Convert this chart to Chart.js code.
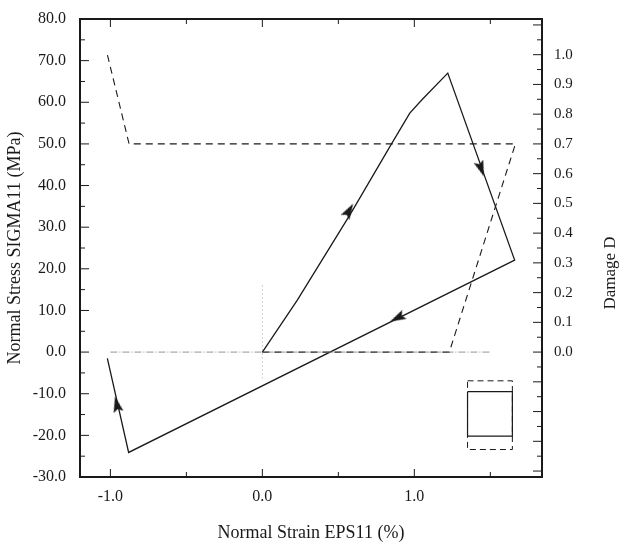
<!DOCTYPE html>
<html>
<head>
<meta charset="utf-8">
<script src="https://cdn.jsdelivr.net/npm/chart.js@4"></script>
<style>
  html, body { margin: 0; padding: 0; background: #fff; }
  #wrap { width: 624px; height: 546px; }
</style>
</head>
<body>
<div id="wrap"><canvas id="chart"></canvas></div>
<script>
// strain EPS11 (%) vs stress SIGMA11 (MPa), in loading order
const strain = [0, 0.23, 0.58, 0.84, 0.97, 1.05, 1.22, 1.66, -0.88, -1.02];
const stress = [0, 12.5, 33.2, 49.4, 57.4, 60.6, 67.0, 22.1, -24.1, -1.5];

// damage D vs strain, same loading order
const dmgStrain = [0, 1.23, 1.665, -0.877, -1.02];
const damage = [0, 0, 0.7, 0.7, 1.0];

// direction arrows along the stress path
const arrowStrain = [0.571, 1.44, 0.888, -0.958];
const arrowStress = [34.0, 44.0, 8.2, -12.5];

// reference lines through the origin
const zeroLineX = [-1.0, 1.5];
const zeroLineY = [0, 0];
const vertLineX = [0, 0];
const vertLineY = [16, -6.3];

// inset: element before (solid) and after (dashed) loading
const boxX = [1.35, 1.645, 1.645, 1.35, 1.35];
const boxY = [-9.5, -9.5, -20.2, -20.2, -9.5];
const boxDefX = [1.35, 1.645, 1.645, 1.35, 1.35];
const boxDefY = [-6.9, -6.9, -23.4, -23.4, -6.9];

const xTicks = [-1.0, 0.0, 1.0];
const yTicks = [-30, -20, -10, 0, 10, 20, 30, 40, 50, 60, 70, 80];
const dTicks = [0, 0.1, 0.2, 0.3, 0.4, 0.5, 0.6, 0.7, 0.8, 0.9, 1.0];

// damage 0.7 sits level with 50 MPa
const mpaPerDamage = 50 / 0.7;

const FONT = 'Liberation Serif';
const INK = '#1a1a1a';

function pts(xs, ys) { return xs.map((x, i) => ({ x: x, y: ys[i] })); }

// narrow arrow head, pointing up
const arrowImg = document.createElement('canvas');
arrowImg.width = 10; arrowImg.height = 16;
(function () {
    const c = arrowImg.getContext('2d');
    c.fillStyle = INK;
    c.beginPath();
    c.moveTo(5, 0);
    c.lineTo(10, 16);
    c.lineTo(5, 13);
    c.lineTo(0, 16);
    c.closePath();
    c.fill();
})();

function arrowAngle(ctx) {
    const chart = ctx.chart;
    const sx = chart.scales.x, sy = chart.scales.y;
    if (!sx || !sy || !ctx.raw) return 0;
    const p = { x: sx.getPixelForValue(ctx.raw.x), y: sy.getPixelForValue(ctx.raw.y) };
    let best = 1e9, ang = 0;
    for (let i = 0; i < strain.length - 1; i++) {
        const a = { x: sx.getPixelForValue(strain[i]), y: sy.getPixelForValue(stress[i]) };
        const b = { x: sx.getPixelForValue(strain[i + 1]), y: sy.getPixelForValue(stress[i + 1]) };
        const dx = b.x - a.x, dy = b.y - a.y;
        const L2 = dx * dx + dy * dy;
        let t = ((p.x - a.x) * dx + (p.y - a.y) * dy) / L2;
        t = Math.max(0, Math.min(1, t));
        const d = Math.hypot(a.x + t * dx - p.x, a.y + t * dy - p.y);
        if (d < best) { best = d; ang = Math.atan2(dx, -dy) * 180 / Math.PI; }
    }
    return ang;
}

// frame + inward tick marks on all four sides
const framePlugin = {
    id: 'frame',
    afterDraw(chart) {
        const { ctx, chartArea: a, scales } = chart;
        ctx.save();
        ctx.strokeStyle = INK;
        ctx.lineWidth = 1;
        ctx.beginPath();
        for (let v = -1.0; v <= 1.51; v += 0.5) {
            const px = scales.x.getPixelForValue(v);
            const len = Math.abs(v % 1) < 0.01 ? 8 : 5;
            ctx.moveTo(px, a.bottom); ctx.lineTo(px, a.bottom - len);
            ctx.moveTo(px, a.top); ctx.lineTo(px, a.top + len);
        }
        for (let v = -30; v <= 80; v += 5) {
            const py = scales.y.getPixelForValue(v);
            const len = v % 10 === 0 ? 9 : 5;
            ctx.moveTo(a.left, py); ctx.lineTo(a.left + len, py);
        }
        for (let k = -8; k <= 22; k++) {
            const v = k * 0.05;
            const py = scales.y2.getPixelForValue(v);
            if (py < a.top || py > a.bottom) continue;
            const len = k % 2 === 0 ? 9 : 5;
            ctx.moveTo(a.right, py); ctx.lineTo(a.right - len, py);
        }
        ctx.stroke();
        ctx.lineWidth = 2;
        ctx.strokeRect(a.left, a.top, a.right - a.left, a.bottom - a.top);
        // right-hand axis title
        ctx.fillStyle = INK;
        ctx.font = '17px "' + FONT + '"';
        ctx.textAlign = 'center';
        ctx.textBaseline = 'middle';
        ctx.translate(chart.width - 13, scales.y.getPixelForValue(19));
        ctx.rotate(-Math.PI / 2);
        ctx.fillText('Damage D', 0, 0);
        ctx.restore();
    }
};

function fitSide(w) {
    return s => { s.width = w; s.paddingTop = 0; s.paddingBottom = 0; };
}

new Chart(document.getElementById('chart').getContext('2d'), {
    type: 'scatter',
    data: {
        datasets: [
            {
                label: 'zero',
                data: pts(zeroLineX, zeroLineY),
                showLine: true, pointRadius: 0,
                borderColor: '#777', borderWidth: 0.8, borderDash: [7, 2, 1, 2]
            },
            {
                label: 'vert',
                data: pts(vertLineX, vertLineY),
                showLine: true, pointRadius: 0,
                borderColor: '#888', borderWidth: 0.8, borderDash: [1, 3]
            },
            {
                label: 'Damage D',
                data: pts(dmgStrain, damage),
                yAxisID: 'y2',
                showLine: true, pointRadius: 0,
                borderColor: INK, borderWidth: 1.1, borderDash: [7, 5]
            },
            {
                label: 'SIGMA11',
                data: pts(strain, stress),
                showLine: true, pointRadius: 0,
                borderColor: INK, borderWidth: 1.3
            },
            {
                label: 'arrows',
                data: pts(arrowStrain, arrowStress),
                pointStyle: arrowImg,
                rotation: arrowAngle,
                pointRadius: 8
            },
            {
                label: 'box',
                data: pts(boxX, boxY),
                showLine: true, pointRadius: 0,
                borderColor: INK, borderWidth: 1.2
            },
            {
                label: 'box deformed',
                data: pts(boxDefX, boxDefY),
                showLine: true, pointRadius: 0,
                borderColor: INK, borderWidth: 1, borderDash: [6, 4]
            }
        ]
    },
    options: {
        responsive: true,
        maintainAspectRatio: false,
        animation: false,
        layout: { padding: { top: 19, right: 0, left: 0, bottom: 0 } },
        plugins: {
            legend: { display: false },
            tooltip: { enabled: false }
        },
        scales: {
            x: {
                type: 'linear',
                min: -1.2, max: 1.84,
                afterBuildTicks: s => { s.ticks = xTicks.map(v => ({ value: v })); },
                afterFit: s => { s.height = 69; s.paddingLeft = 0; s.paddingRight = 0; },
                grid: { display: false, drawTicks: false },
                border: { display: false },
                ticks: {
                    padding: 10, color: INK,
                    font: { family: FONT, size: 16 },
                    callback: v => v.toFixed(1)
                },
                title: {
                    display: true, text: 'Normal Strain EPS11 (%)', color: INK,
                    font: { family: FONT, size: 18 },
                    padding: { top: 0, bottom: 2 }
                }
            },
            y: {
                min: -30, max: 80,
                afterBuildTicks: s => { s.ticks = yTicks.map(v => ({ value: v })); },
                afterFit: fitSide(80),
                grid: { display: false, drawTicks: false },
                border: { display: false },
                ticks: {
                    padding: 14, color: INK,
                    font: { family: FONT, size: 16 },
                    callback: v => v.toFixed(1)
                },
                title: {
                    display: true, text: 'Normal Stress SIGMA11 (MPa)', color: INK,
                    font: { family: FONT, size: 18 },
                    padding: { top: 4, bottom: 0 }
                }
            },
            y2: {
                position: 'right',
                min: -30 / mpaPerDamage, max: 80 / mpaPerDamage,
                afterBuildTicks: s => { s.ticks = dTicks.map(v => ({ value: v })); },
                afterFit: fitSide(82),
                grid: { display: false, drawTicks: false },
                border: { display: false },
                ticks: {
                    padding: 12, color: INK,
                    font: { family: FONT, size: 15 },
                    callback: v => v.toFixed(1)
                }
            }
        }
    },
    plugins: [framePlugin]
});
</script>
</body>
</html>
